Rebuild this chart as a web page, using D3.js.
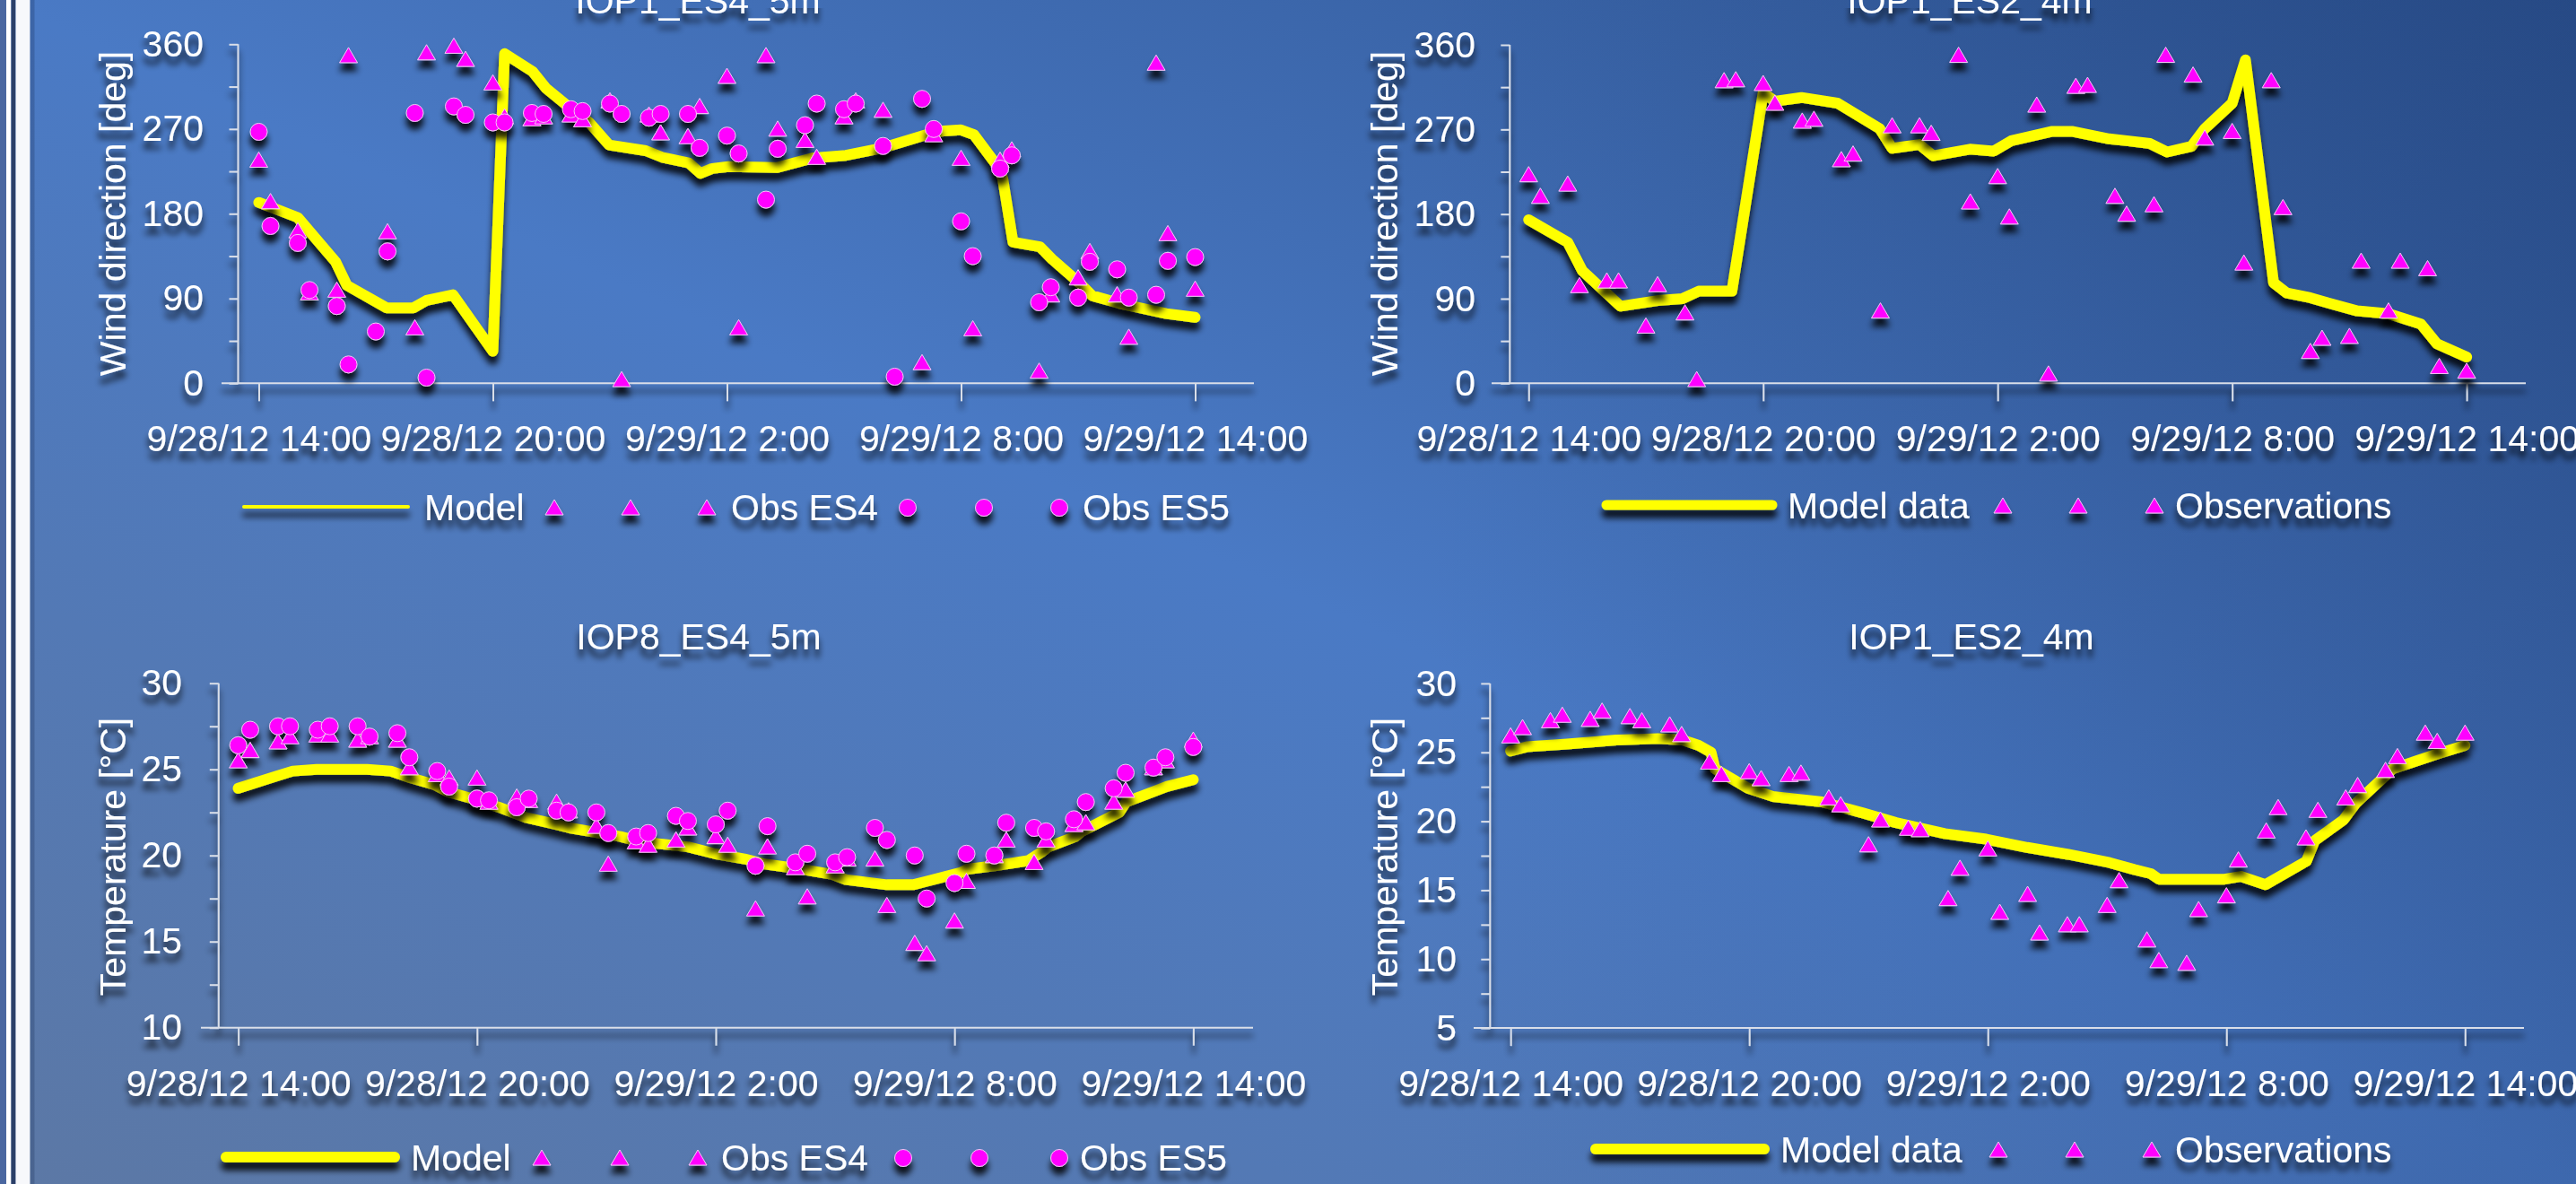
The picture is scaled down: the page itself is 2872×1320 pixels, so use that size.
<!DOCTYPE html>
<html>
<head>
<meta charset="utf-8">
<script src="https://cdn.jsdelivr.net/npm/d3@7"></script>
<style>
  body { margin: 0; overflow: hidden; background: #4a78c0; }
  svg { display: block; }
  text { font-family: "Liberation Sans", Arial, sans-serif; fill: #fff; }
</style>
</head>
<body>
<div id="chart"></div>
<script>
// all times are hours after 9/28/12 14:00
const obsHours = [0, 0.3, 1, 1.3, 2, 2.3, 3, 3.3, 4, 4.3, 5, 5.3, 6, 6.3, 7, 7.3, 8, 8.3, 9, 9.3,
  10, 10.3, 11, 11.3, 12, 12.3, 13, 13.3, 14, 14.3, 15, 15.3, 16, 16.3, 17, 17.3, 18, 18.3, 19, 19.3,
  20, 20.3, 21, 21.3, 22, 22.3, 23, 23.3, 24]
const tickHours = [0, 6, 12, 18, 24]

// IOP1_ES4_5m wind direction
const windEs4Names = ['Model', 'Obs ES4', 'Obs ES5']
const windEs4ModelHours = [0, 1, 1.97, 2.26, 3.28, 3.96, 4.3, 4.98, 6.0, 6.3, 7.02, 7.37, 7.96, 8.47, 8.98,
  9.92, 10.34, 11.02, 11.32, 11.62, 12.04, 13.27, 14.18, 15.05, 16, 17.12, 17.55, 18, 18.33, 18.96, 19.07,
  19.33, 20.02, 20.33, 21.1, 21.36, 22.05, 23.26, 24]
const windEs4Model = [192, 176, 129, 104, 80, 80, 88, 94, 34, 350, 331, 313, 293, 277, 253,
  247, 240, 234, 223, 228, 230, 229, 239, 242, 250, 264, 268, 269, 264, 229, 217,
  150, 145, 132, 104, 93, 85, 74, 70]
const windEs4Obs4 = [237, 193, 162, 96, 99, 348, null, 161, 59, 351, 358, 344, 319, 283, 281, 283, 285, 280, 300, 4,
  285, 266, 262, 294, 326, 59, 348, 270, 258, 240, 283, 300, 290, null, 22, 264, 239, 58, 237, 248,
  13, 94, 112, 140, 94, 49, 340, 159, 100]
const windEs4Obs5 = [267, 167, 149, 99, 82, 20, 55, 140, 287, 6, 294, 285, 277, 277, 287, 286, 291, 289, 297, 286,
  282, 286, 286, 250, 263, 244, 195, 249, 274, 297, 291, 297, 252, 7, 302, 270, 172, 135, 228, 242,
  86, 102, 91, 129, 121, 91, 94, 130, 134]

// IOP1_ES2_4m wind direction
const windEs2Names = ['Model data', 'Observations']
const windEs2ModelHours = [0, 1, 1.37, 2.35, 3.3, 3.93, 4.35, 5.2, 6, 6.3, 6.98, 7.9, 8.98, 9.3, 10, 10.35,
  11.29, 11.9, 12.35, 13.4, 13.9, 14.85, 15.3, 15.9, 16.33, 16.96, 17.3, 18, 18.34, 19.06, 19.4, 20,
  20.5, 21.2, 22, 22.83, 23.24, 24]
const windEs2Model = [174, 150, 120, 82, 88, 90, 98, 98, 309, 300, 304, 298, 271, 250, 254, 242,
  249, 247, 258, 268, 268, 260, 258, 255, 246, 252, 271, 298, 344, 107, 96, 91,
  85, 77, 74, 63, 42, 28]
const windEs2Obs = [222, 199, 212, 104, 109, 109, 61, 105, 75, 4, 322, 323, 319, 298, 279, 281, 238, 244, 77, 274,
  274, 266, 349, 193, 220, 177, 296, 10, 316, 317, 199, 180, 190, 349, 328, 261, 268, 128, 322, 187,
  34, 48, 50, 130, 77, 130, 122, 18, 13]

// IOP8_ES4_5m temperature
const tempEs4Names = ['Model', 'Obs ES4', 'Obs ES5']
const tempEs4ModelHours = [0, 0.95, 1.37, 1.97, 3.24, 3.83, 4.34, 4.94, 5.27, 5.87, 6.55, 7.23, 7.99, 8.33,
  9.6, 10.11, 11.3, 11.98, 12.72, 13.23, 14.17, 14.93, 15.27, 16.3, 16.96, 17.3, 18.15, 18.32, 19, 19.85,
  20.19, 20.36, 21.04, 21.2, 22.14, 22.31, 23.33, 24]
const tempEs4Model = [23.9, 24.6, 24.9, 25.0, 25.0, 24.9, 24.5, 24.1, 23.7, 23.3, 22.8, 22.2, 21.8, 21.6,
  21.1, 20.8, 20.5, 20.1, 19.8, 19.5, 19.2, 18.9, 18.6, 18.3, 18.3, 18.5, 19.0, 19.2, 19.4, 19.7,
  20.2, 20.5, 21.1, 21.4, 22.5, 23.1, 24.0, 24.4]
const tempEs4Obs4 = [25.5, 26.1, 26.6, 26.9, 27.0, 27.0, 26.7, 26.9, 26.7, 25.1, 24.7, 24.5, 24.5, 23.1, 23.4, 23.2,
  23.1, 22.6, 21.7, 19.5, 20.8, 20.6, 20.9, 21.6, 21.1, 20.6, 16.9, 20.5, 19.3, 17.6, 19.4, 19.8, 19.8,
  17.1, 14.9, 14.3, 16.2, 18.5, 20.0, 20.9, 19.6, 20.9, 21.8, 21.9, 23.1, 23.8, 25.1, 25.5, 26.7]
const tempEs4Obs5 = [26.4, 27.3, 27.5, 27.5, 27.3, 27.5, 27.5, 26.9, 27.1, 25.7, 24.9, 24.0, 23.3, 23.2, 22.8, 23.3,
  22.6, 22.5, 22.5, 21.3, 21.1, 21.3, 22.3, 22.0, 21.8, 22.6, 19.4, 21.7, 19.6, 20.1, 19.6, 19.9, 21.6,
  20.9, 20.0, 17.5, 18.4, 20.1, 20.0, 21.9, 21.6, 21.4, 22.1, 23.1, 23.9, 24.8, 25.1, 25.7, 26.3]

// IOP1_ES2_4m temperature
const tempEs2Names = ['Model data', 'Observations']
const tempEs2ModelHours = [0, 0.4, 1.42, 2.66, 3.7, 4.32, 4.73, 5.04, 5.14, 5.97, 6.59, 7.83, 8.86, 9.69,
  10.92, 11.96, 12.99, 14.02, 15.06, 15.68, 16.1, 16.3, 17.95, 18.36, 18.98, 20.01, 20.22, 20.94, 21.25,
  22.18, 23.32, 24]
const tempEs2Model = [25.1, 25.4, 25.6, 25.9, 26.0, 25.9, 25.5, 25.0, 23.8, 22.4, 21.8, 21.4, 20.6, 19.9,
  19.1, 18.7, 18.1, 17.6, 17.0, 16.5, 16.2, 15.8, 15.8, 16.0, 15.4, 17.1, 18.6, 20.1, 21.3,
  23.8, 24.9, 25.5]
const tempEs2Obs = [26.2, 26.8, 27.3, 27.7, 27.4, 28.0, 27.6, 27.3, 27.0, 26.3, 24.3, 23.4, 23.6, 23.1, 23.4, 23.5,
  21.7, 21.2, 18.3, 20.1, 19.5, 19.4, 14.4, 16.6, 18.0, 13.4, 14.7, 11.9, 12.5, 12.5, 13.9, 15.7, 11.4,
  9.9, 9.7, 13.6, 14.6, 17.2, 19.3, 21.0, 18.8, 20.8, 21.7, 22.6, 23.7, 24.7, 26.4, 25.8, 26.4]


const W = 2872, H = 1320
const startTime = new Date(2012, 8, 28, 14, 0)
const toDate = (h) => new Date(startTime.getTime() + h * 3600 * 1000)
const fmtTime = d3.timeFormat('%-m/%-d/%y %-H:%M')
const pairs = (hours, vals) => hours.map((h, i) => ({t: toDate(h), v: vals[i]})).filter((d) => d.v != null)

const svg = d3.select('#chart').append('svg').attr('width', W).attr('height', H)
const defs = svg.append('defs')

const bg = defs.append('linearGradient').attr('id', 'bg')
  .attr('x1', 0).attr('y1', 1).attr('x2', 1).attr('y2', 0)
bg.append('stop').attr('offset', 0).attr('stop-color', '#5c78a5')
bg.append('stop').attr('offset', 0.5).attr('stop-color', '#4a7ac5')
bg.append('stop').attr('offset', 1).attr('stop-color', '#2d5391')
const dim = defs.append('linearGradient').attr('id', 'dim')
dim.append('stop').attr('offset', 0.55).attr('stop-color', '#10285a').attr('stop-opacity', 0)
dim.append('stop').attr('offset', 1).attr('stop-color', '#10285a').attr('stop-opacity', 0.22)

const addShadow = (id, blur, dy, alpha) => {
  const f = defs.append('filter').attr('id', id).attr('filterUnits', 'userSpaceOnUse')
    .attr('x', 0).attr('y', 0).attr('width', W).attr('height', H)
  f.append('feGaussianBlur').attr('in', 'SourceAlpha').attr('stdDeviation', blur).attr('result', 'b')
  f.append('feOffset').attr('in', 'b').attr('dy', dy).attr('result', 'o')
  f.append('feComponentTransfer').attr('in', 'o').attr('result', 's')
    .append('feFuncA').attr('type', 'linear').attr('slope', alpha)
  const m = f.append('feMerge')
  m.append('feMergeNode').attr('in', 's')
  m.append('feMergeNode').attr('in', 'SourceGraphic')
}
addShadow('markShadow', 3.5, 9, 0.85)
addShadow('textShadow', 3.5, 9, 0.8)

svg.append('rect').attr('width', W).attr('height', H).attr('fill', 'url(#bg)')
svg.append('rect').attr('width', W).attr('height', H).attr('fill', 'url(#dim)')

// frame on the left edge
const frame = [
  {x: 0, w: 7, c: '#4a67a0'},
  {x: 7, w: 5.5, c: '#ffffff'},
  {x: 12.5, w: 5, c: '#2b3f68'},
  {x: 17.5, w: 16, c: '#f7f8fb'},
  {x: 33.5, w: 5, c: 'rgba(20,40,80,0.25)'},
]
svg.selectAll('rect.frame').data(frame).enter().append('rect')
  .attr('class', 'frame').attr('x', (d) => d.x).attr('y', 0)
  .attr('width', (d) => d.w).attr('height', H).attr('fill', (d) => d.c)

const triPath = 'M0,-9L10,8L-10,8Z'
const MAGENTA = '#ff00ff'
const YELLOW = '#ffff00'
const AXIS = '#d9dee8'

const drawMarker = (sel, kind) => {
  if (kind === 'tri') {
    return sel.append('path').attr('d', triPath)
      .attr('fill', MAGENTA).attr('stroke', '#f4c8f4').attr('stroke-width', 1)
  }
  return sel.append('circle').attr('r', 9.5)
    .attr('fill', MAGENTA).attr('stroke', '#f4c8f4').attr('stroke-width', 1)
}

const drawPanel = (p) => {
  const x = d3.scaleTime().domain([toDate(0), toDate(24)]).range([p.tick0, p.tick4])
  const y = d3.scaleLinear().domain(p.yDomain).range([p.yBot, p.yTop])
  const g = svg.append('g')

  // axes
  const ax = g.append('g').attr('filter', 'url(#textShadow)')
  ax.append('line').attr('x1', p.xLine[0]).attr('x2', p.xLine[1])
    .attr('y1', p.yBot).attr('y2', p.yBot).attr('stroke', AXIS).attr('stroke-width', 2)
  ax.append('line').attr('x1', p.yAxisX).attr('x2', p.yAxisX)
    .attr('y1', p.yTop).attr('y2', p.yBot).attr('stroke', AXIS).attr('stroke-width', 2)

  const xAxis = ax.append('g').attr('transform', `translate(0,${p.yBot})`)
    .call(d3.axisBottom(x).tickValues(tickHours.map(toDate)).tickFormat(fmtTime).tickSize(20).tickSizeOuter(0))
  xAxis.select('.domain').remove()
  xAxis.selectAll('line').attr('stroke', AXIS).attr('stroke-width', 2)
  xAxis.selectAll('text').attr('y', 76).attr('dy', null)
    .attr('font-size', 41).attr('fill', '#fff').attr('font-family', null)

  const yTicks = d3.range(p.yDomain[0], p.yDomain[1] + 0.01, p.minor)
  const yAxis = ax.append('g').attr('transform', `translate(${p.yAxisX},0)`)
    .call(d3.axisLeft(y).tickValues(yTicks).tickSize(10).tickPadding(p.labelPad)
      .tickFormat((v) => (Math.abs(v % p.major) < 1e-6 ? d3.format('d')(v) : '')))
  yAxis.select('.domain').remove()
  yAxis.selectAll('line').attr('stroke', AXIS).attr('stroke-width', 2)
  yAxis.selectAll('text').attr('font-size', 41).attr('fill', '#fff').attr('font-family', null)

  // titles
  const tg = g.append('g').attr('filter', 'url(#textShadow)')
  tg.append('text').attr('x', p.titleX).attr('y', p.titleY)
    .attr('text-anchor', 'middle').attr('font-size', 41).text(p.title)
  tg.append('text').attr('transform', `translate(${p.yTitleX},${p.yTitleY}) rotate(-90)`)
    .attr('text-anchor', 'middle').attr('dominant-baseline', 'central')
    .attr('font-size', 41).text(p.yTitle)

  // model line
  const line = d3.line().x((d) => x(d.t)).y((d) => y(d.v))
  g.append('g').attr('filter', 'url(#markShadow)')
    .append('path').datum(pairs(p.modelHours, p.model))
    .attr('d', line).attr('fill', 'none').attr('stroke', YELLOW)
    .attr('stroke-width', 12).attr('stroke-linejoin', 'round').attr('stroke-linecap', 'round')

  // observations
  const mg = g.append('g').attr('filter', 'url(#markShadow)')
  p.obs.forEach((s) => {
    const pts = mg.selectAll(null).data(pairs(obsHours, s.values)).enter()
      .append('g').attr('transform', (d) => `translate(${x(d.t)},${y(d.v)})`)
    drawMarker(pts, s.kind)
  })

  // legend
  const lg = g.append('g').attr('filter', 'url(#markShadow)')
  lg.append('line').attr('x1', p.legend.line[0]).attr('x2', p.legend.line[1])
    .attr('y1', p.legend.y).attr('y2', p.legend.y)
    .attr('stroke', YELLOW).attr('stroke-width', p.legend.lineW).attr('stroke-linecap', 'round')
  const lt = g.append('g').attr('filter', 'url(#textShadow)')
  lt.append('text').attr('x', p.legend.texts[0]).attr('y', p.legend.y).attr('dy', '0.36em')
    .attr('font-size', 41).text(p.names[0])
  p.obs.forEach((s, i) => {
    const keys = lg.selectAll(null).data(p.legend.marks[i]).enter()
      .append('g').attr('transform', (d) => `translate(${d},${p.legend.y + 1})`)
    drawMarker(keys, s.kind)
    lt.append('text').attr('x', p.legend.texts[i + 1]).attr('y', p.legend.y).attr('dy', '0.36em')
      .attr('font-size', 41).text(p.names[i + 1])
  })
}

drawPanel({
  title: 'IOP1_ES4_5m', titleX: 778, titleY: 15,
  yTitle: 'Wind direction [deg]', yTitleX: 126, yTitleY: 238,
  yDomain: [0, 360], major: 90, minor: 45,
  yTop: 49.3, yBot: 427.3, yAxisX: 265.5, labelPad: 28.5,
  tick0: 288.5, tick4: 1332.5, xLine: [247, 1398],
  modelHours: windEs4ModelHours, model: windEs4Model,
  obs: [{kind: 'tri', values: windEs4Obs4}, {kind: 'circ', values: windEs4Obs5}],
  names: windEs4Names,
  legend: {y: 565, line: [272, 455], lineW: 4, texts: [473, 815, 1207],
    marks: [[618, 703, 788], [1012, 1097, 1181]]},
})

drawPanel({
  title: 'IOP1_ES2_4m', titleX: 2196, titleY: 15,
  yTitle: 'Wind direction [deg]', yTitleX: 1544, yTitleY: 238,
  yDomain: [0, 360], major: 90, minor: 45,
  yTop: 50, yBot: 427.3, yAxisX: 1683.3, labelPad: 28.3,
  tick0: 1704.3, tick4: 2750.1, xLine: [1663, 2816],
  modelHours: windEs2ModelHours, model: windEs2Model,
  obs: [{kind: 'tri', values: windEs2Obs}],
  names: windEs2Names,
  legend: {y: 563, line: [1791, 1976], lineW: 11, texts: [1993, 2425],
    marks: [[2233, 2317, 2402]]},
})

drawPanel({
  title: 'IOP8_ES4_5m', titleX: 779, titleY: 724,
  yTitle: 'Temperature [°C]', yTitleX: 126, yTitleY: 955,
  yDomain: [10, 30], major: 5, minor: 2.5,
  yTop: 761.7, yBot: 1145.7, yAxisX: 243.8, labelPad: 30.8,
  tick0: 265.6, tick4: 1330.4, xLine: [224, 1397],
  modelHours: tempEs4ModelHours, model: tempEs4Model,
  obs: [{kind: 'tri', values: tempEs4Obs4}, {kind: 'circ', values: tempEs4Obs5}],
  names: tempEs4Names,
  legend: {y: 1290, line: [252, 440], lineW: 12, texts: [458, 804, 1204],
    marks: [[604, 691, 778], [1007, 1092, 1181]]},
})

drawPanel({
  title: 'IOP1_ES2_4m', titleX: 2198, titleY: 724,
  yTitle: 'Temperature [°C]', yTitleX: 1544, yTitleY: 955,
  yDomain: [5, 30], major: 5, minor: 2.5,
  yTop: 761.9, yBot: 1146.1, yAxisX: 1661.3, labelPad: 27.3,
  tick0: 1684.2, tick4: 2748.3, xLine: [1643, 2814],
  modelHours: tempEs2ModelHours, model: tempEs2Model,
  obs: [{kind: 'tri', values: tempEs2Obs}],
  names: tempEs2Names,
  legend: {y: 1281, line: [1779, 1967], lineW: 12, texts: [1985, 2425],
    marks: [[2228, 2313, 2399]]},
})
</script>
</body>
</html>
